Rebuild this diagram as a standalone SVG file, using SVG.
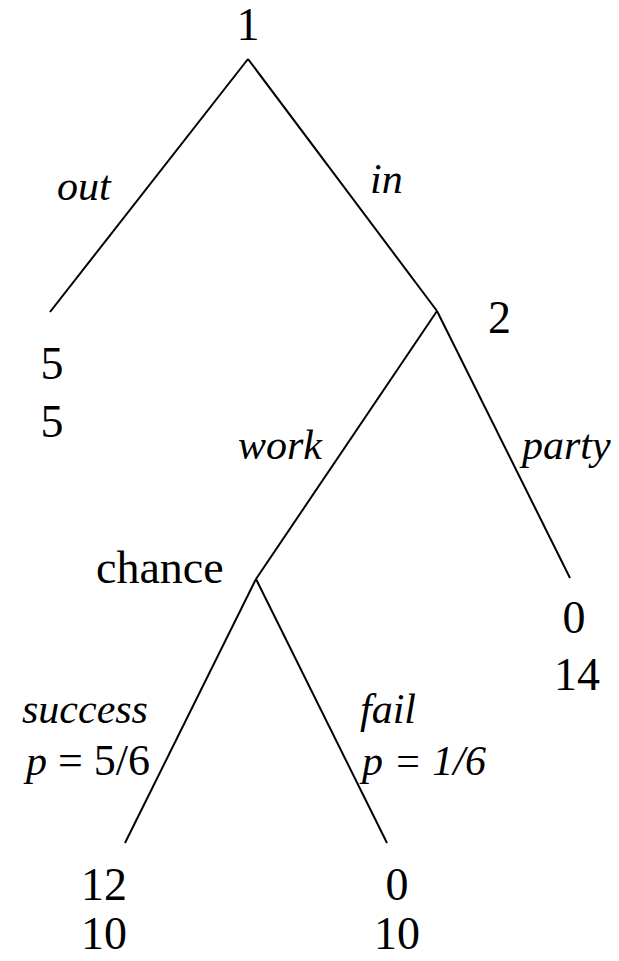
<svg xmlns="http://www.w3.org/2000/svg" width="619" height="961" viewBox="0 0 619 961">
<style>
.t{font-family:"Liberation Serif","Tinos","DejaVu Serif","Noto Serif",serif;font-size:46px;fill:#000}
.i{font-family:"Liberation Serif","Tinos","DejaVu Serif","Noto Serif",serif;font-size:42px;font-style:italic;fill:#000}
.c{text-anchor:middle}
.e{stroke:#000;stroke-width:2;fill:none}
</style>
<rect width="619" height="961" fill="#fff"/>
<g id="connectors">
<line class="e" x1="248" y1="59" x2="50" y2="312"/>
<line class="e" x1="248" y1="59" x2="437" y2="311"/>
<line class="e" x1="437" y1="311" x2="256" y2="579"/>
<line class="e" x1="437" y1="311" x2="570" y2="578"/>
<line class="e" x1="256" y1="579" x2="125" y2="843"/>
<line class="e" x1="256" y1="579" x2="387" y2="843"/>
<text class="i" x="57" y="200">out</text>
<text class="i" x="370" y="193">in</text>
<text class="i" x="238" y="459">work</text>
<text class="i" x="522" y="459">party</text>
<text class="i" x="22" y="723">success</text>
<text class="i" x="26" y="775">p<tspan font-style="normal" font-size="44"> = 5/6</tspan></text>
<text class="i" x="360" y="723">fail</text>
<text class="i" x="362" y="775">p = 1/6</text>
</g>
<g id="node1"><text class="t c" x="248" y="40">1</text></g>
<g id="node2"><text class="t" x="488" y="333">2</text></g>
<g id="chance"><text class="t" x="96" y="583">chance</text></g>
<g id="leaf-out"><text class="t c" x="52" y="379">5</text><text class="t c" x="52" y="437">5</text></g>
<g id="leaf-party"><text class="t c" x="574" y="633">0</text><text class="t c" x="577" y="690">14</text></g>
<g id="leaf-success"><text class="t c" x="104" y="900">12</text><text class="t c" x="104" y="949">10</text></g>
<g id="leaf-fail"><text class="t c" x="397" y="900">0</text><text class="t c" x="397" y="949">10</text></g>
</svg>
